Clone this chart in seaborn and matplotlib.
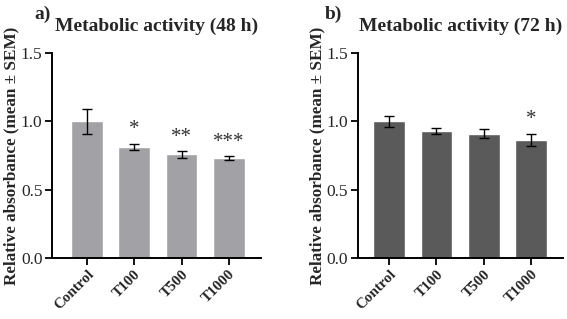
import numpy as np
import pandas as pd
import seaborn as sns
import matplotlib.pyplot as plt

# data
groups = ["Control", "T100", "T500", "T1000"]
mean_48h = [1.00, 0.815, 0.76, 0.73]
sem_48h = [0.09, 0.022, 0.025, 0.016]
stars_48h = ["", "*", "**", "***"]
mean_72h = [1.00, 0.93, 0.91, 0.865]
sem_72h = [0.038, 0.02, 0.035, 0.045]
stars_72h = ["", "", "", "*"]

sns.set_theme(style="ticks")
plt.rcParams["font.family"] = ["Liberation Serif", "DejaVu Serif"]

fig = plt.figure(figsize=(5.67, 3.19), dpi=100)
ax1 = fig.add_axes([0.092, 0.191, 0.368, 0.643])
ax2 = fig.add_axes([0.631, 0.191, 0.362, 0.643])


def draw_panel(ax, means, sems, stars, color, title, letter, xlim):
    df = pd.DataFrame({"group": groups, "value": means})
    sns.barplot(data=df, x="group", y="value", color=color, width=0.67,
                saturation=1, errorbar=None, ax=ax)
    ax.errorbar(range(len(groups)), means, yerr=sems, fmt="none",
                ecolor="black", elinewidth=1.0, capsize=3.5, capthick=1.0)
    for i, s in enumerate(stars):
        if s:
            ax.annotate(s, (i, means[i] + sems[i]), xytext=(0, 3),
                        textcoords="offset points", ha="center", va="bottom",
                        fontsize=15, color="#333333")
    ax.set_ylim(0, 1.5)
    ax.set_xlim(*xlim)
    ax.set_yticks([0.0, 0.5, 1.0, 1.5])
    ax.set_yticklabels(["0.0", "0.5", "1.0", "1.5"], fontsize=12.5)
    ax.set_xlabel("")
    ax.set_ylabel("Relative absorbance (mean ± SEM)", fontsize=12.3,
                  fontweight="bold", labelpad=1)
    ax.set_xticks(range(len(groups)))
    ax.set_xticklabels(groups, rotation=45, ha="right", rotation_mode="anchor",
                       fontsize=10.8, fontweight="bold")
    ax.tick_params(axis="both", length=5, width=1.3, color="black", pad=2)
    for side in ["left", "bottom"]:
        ax.spines[side].set_linewidth(1.4)
        ax.spines[side].set_color("black")
    sns.despine(ax=ax)
    ax.set_title(title, fontsize=14, fontweight="bold", pad=16)
    ax.text(letter[1], letter[2], letter[0], transform=fig.transFigure,
            fontsize=14, fontweight="bold", ha="left", va="center")


draw_panel(ax1, mean_48h, sem_48h, stars_48h, "#a2a2a6",
           "Metabolic activity (48 h)", ("a)", 0.06, 0.955), (-0.74, 3.68))
draw_panel(ax2, mean_72h, sem_72h, stars_72h, "#5a5a5a",
           "Metabolic activity (72 h)", ("b)", 0.573, 0.955), (-0.66, 3.67))

fig.savefig("out.png", dpi=100)
